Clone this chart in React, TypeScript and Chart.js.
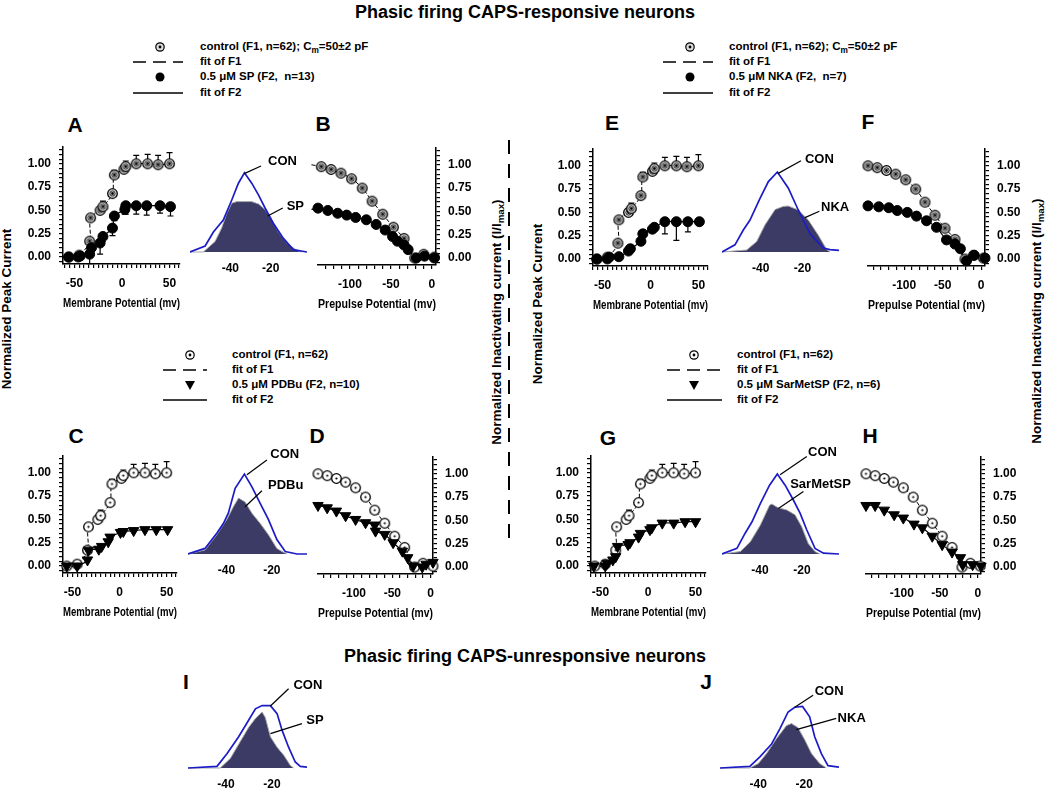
import React, { useEffect, useRef } from 'react';
import { Chart, registerables } from 'chart.js';

Chart.register(...registerables);

const FONT = "'Liberation Sans', Arial, Helvetica, sans-serif";
Chart.defaults.font.family = FONT;
Chart.defaults.color = '#000';

// ---------------- DATA ----------------
// Activation (normalized peak current vs membrane potential, mV)
const actCtrlV = [-56, -45, -34, -33, -23, -20, -10, -8, 2, 4, 15, 27, 38, 50];
const actCtrlY = [0.0, 0.02, 0.17, 0.42, 0.5, 0.54, 0.68, 0.88, 0.94, 0.97, 1.0, 1.0, 0.99, 1.0];
const actCtrlErr = [0, 0.02, 0.02, 0.03, 0.03, 0.06, 0.03, 0.05, 0.03, 0.06, 0.09, 0.1, 0.1, 0.12];

const actSpV = [-56, -46, -44, -34, -32, -23, -20, -10, -8, 3, 4, 15, 26, 40, 51];
const actSpY = [0, 0, 0.01, 0.03, 0.1, 0.15, 0.22, 0.31, 0.44, 0.51, 0.55, 0.55, 0.55, 0.55, 0.54];
const actSpErr = [0, 0.02, 0, 0.1, 0.05, 0.12, 0.05, 0.08, 0.05, 0.05, 0.09, 0.09, 0.1, 0.08, 0.1];

const actNkaV = [-56, -45, -43, -33, -23, -21, -10, -8, 2, 4, 15, 27, 39, 51];
const actNkaY = [0, 0, 0.02, 0.025, 0.085, 0.11, 0.19, 0.27, 0.32, 0.34, 0.4, 0.4, 0.4, 0.4];
const actNkaErr = [0, 0, 0, 0, 0, 0, 0, 0, 0, 0, 0.13, 0.2, 0.11, 0];

const actPdbuV = [-56, -45, -34, -33, -22, -19, -12, -10, 1, 4, 15, 27, 39, 51];
const actPdbuY = [0, 0, 0.065, 0.17, 0.18, 0.21, 0.26, 0.31, 0.36, 0.37, 0.38, 0.39, 0.39, 0.39];

const actSarV = [-57, -45, -43, -37, -34, -32, -21, -19, -10, -8, 2, 4, 15, 27, 39, 50];
const actSarY = [0, 0, 0.03, 0.065, 0.1, 0.21, 0.23, 0.25, 0.31, 0.35, 0.39, 0.41, 0.46, 0.46, 0.475, 0.475];

// Inactivation (normalized current vs prepulse potential, mV)
const inaCtrlV = [-147, -135, -123, -111, -98, -85, -73, -60, -47, -34, -21, -10, 3];
const inaCtrlY = [1.0, 0.98, 0.95, 0.91, 0.85, 0.75, 0.61, 0.47, 0.33, 0.21, 0.0, 0.04, 0.01];

const inaSpV = [-147, -139, -127, -115, -104, -93, -80, -68, -57, -48, -42, -34, -29, -19, -9, 3];
const inaSpY = [0.52, 0.535, 0.51, 0.48, 0.46, 0.435, 0.41, 0.36, 0.3, 0.23, 0.18, 0.14, 0.09, 0.0, 0.02, 0.0];

const inaNkaV = [-147, -133, -120, -109, -96, -84, -71, -58, -45, -34, -27, -19, -9, 5];
const inaNkaY = [0.57, 0.56, 0.55, 0.52, 0.5, 0.46, 0.41, 0.34, 0.205, 0.16, 0.11, -0.02, 0.04, 0.01];

const inaPdbuV = [-147, -135, -123, -111, -98, -85, -73, -72, -60, -49, -37, -30, -23, -11, -6, 3];
const inaPdbuY = [0.66, 0.635, 0.6, 0.55, 0.51, 0.475, 0.45, 0.385, 0.35, 0.26, 0.17, 0.1, 0.01, 0.0, 0.03, 0.05];

const inaSarV = [-147, -135, -123, -110, -98, -84, -73, -60, -47, -34, -23, -20, -7, 4];
const inaSarY = [0.66, 0.66, 0.61, 0.56, 0.525, 0.46, 0.42, 0.33, 0.24, 0.16, 0.1, 0.025, 0.025, 0.01];

// Window currents (normalized, vs mV)
const winAConV = [-60, -52.5, -48.4, -43.5, -39.3, -36, -33, -29.4, -26, -22.8, -18.7, -13.7, -8.8, -2];
const winAConY = [0, 0.075, 0.25, 0.4, 0.65, 0.86, 0.99, 0.86, 0.71, 0.55, 0.36, 0.17, 0.03, 0];
const winASpV = [-60, -53.4, -47.6, -44.3, -41.8, -39.3, -36.8, -29.4, -26, -22.8, -19.5, -16.2, -12, -7, -5];
const winASpY = [0, 0, 0.13, 0.3, 0.48, 0.61, 0.63, 0.63, 0.6, 0.53, 0.4, 0.25, 0.11, 0.02, 0];

const winCConV = [-57, -49.5, -44.3, -41.4, -39.2, -36.2, -32.1, -28.8, -25.1, -21.5, -17.8, -14.1, -8.9, -4.5];
const winCConY = [0, 0.07, 0.26, 0.38, 0.51, 0.82, 1.0, 0.84, 0.63, 0.43, 0.18, 0.03, 0, 0];
const winCPdV = [-57, -49.5, -44.3, -39.9, -37, -34.7, -31.8, -28.8, -25.1, -21.5, -17.8, -15.5, -13.3];
const winCPdY = [0, 0.05, 0.24, 0.43, 0.59, 0.7, 0.65, 0.51, 0.38, 0.24, 0.07, 0.03, 0];

const winEConV = [-58.5, -52.3, -48.3, -45.1, -40.3, -36.3, -32, -26.8, -22, -16.4, -10, -6.8, -2.5];
const winEConY = [0, 0.09, 0.275, 0.4, 0.67, 0.88, 1.0, 0.8, 0.525, 0.23, 0.05, 0.03, 0.02];
const winENkaV = [-58.5, -46.7, -41.9, -37.9, -33.1, -29.2, -26.8, -22, -17.2, -12.4, -8.4, -6.8];
const winENkaY = [0, 0.025, 0.13, 0.34, 0.53, 0.57, 0.575, 0.525, 0.4, 0.21, 0.03, 0];

const winGConV = [-58, -50.9, -47, -43.8, -39.8, -35.4, -31.7, -28, -24.1, -20.9, -17.7, -13.8, -9.8, -2.4];
const winGConY = [0, 0.07, 0.26, 0.4, 0.63, 0.86, 1.0, 0.86, 0.675, 0.51, 0.3, 0.07, 0.01, 0];
const winGSarV = [-58, -49.3, -44.6, -39.8, -35.4, -34.3, -31.5, -27.2, -23.3, -20.1, -17, -13.8, -11.4];
const winGSarY = [0, 0.03, 0.15, 0.36, 0.61, 0.625, 0.58, 0.55, 0.49, 0.34, 0.13, 0.03, 0];

const winIConV = [-56.5, -43.9, -39.5, -34.5, -30.1, -27.2, -24.3, -20.7, -17.8, -15.6, -12.8, -9.9, -7.7, -4.8];
const winIConY = [0, 0.02, 0.18, 0.39, 0.6, 0.74, 0.78, 0.78, 0.68, 0.47, 0.26, 0.075, 0.02, 0.01];
const winISpV = [-56.5, -42.5, -38.1, -33.8, -30.1, -27.2, -24.3, -22.9, -20.7, -17.8, -14.9, -12, -10.6];
const winISpY = [0, 0, 0.12, 0.33, 0.51, 0.62, 0.7, 0.63, 0.39, 0.26, 0.16, 0.03, 0];

const winJConV = [-56.7, -43.7, -39.3, -34.2, -30.6, -27, -24.1, -20.7, -17.6, -15.4, -12.5, -9.6, -4.8];
const winJConY = [0, 0.02, 0.14, 0.3, 0.49, 0.7, 0.76, 0.77, 0.64, 0.39, 0.18, 0.03, 0.01];
const winJNkaV = [-56.7, -43.7, -40, -36.4, -32, -27.7, -25.5, -22.7, -19.7, -16.8, -13.2, -10.3];
const winJNkaY = [0, 0, 0.055, 0.18, 0.37, 0.53, 0.555, 0.505, 0.35, 0.18, 0.055, 0];

// Tick positions / labels
const actXLabels = [-50, 0, 50];
const inaXLabels = [-100, -50, 0];
const winXLabels = [-40, -20];
const actXTicks: number[] = [];
for (let v = -60; v <= 60; v += 5) actXTicks.push(v);
const inaXTicks: number[] = [];
for (let v = -140; v <= 0; v += 10) inaXTicks.push(v);
const yTickList: number[] = [];
for (let i = -1; i <= 23; i++) yTickList.push(i * 0.05);
const Y_MIN = -0.075;
const Y_MAX = 1.18;

// ---------------- helpers ----------------
const pts = (xs: number[], ys: number[]) => xs.map((x, i) => ({ x, y: ys[i] }));
const isMult = (v: number, step: number) => {
  const r = v / step;
  return Math.abs(r - Math.round(r)) < 1e-6;
};

function ctrlMarker(kind: 'gray' | 'open', r: number) {
  const c = document.createElement('canvas');
  const s = 2 * Math.ceil(r) + 3;
  c.width = s;
  c.height = s;
  const g = c.getContext('2d')!;
  const m = s / 2;
  g.beginPath();
  g.arc(m, m, r, 0, Math.PI * 2);
  g.fillStyle = kind === 'gray' ? '#dcdcdc' : '#ffffff';
  g.fill();
  g.lineWidth = 1.3;
  g.strokeStyle = '#000';
  g.stroke();
  if (kind === 'gray') {
    g.beginPath();
    g.arc(m, m, r * 0.55, 0, Math.PI * 2);
    g.lineWidth = 1;
    g.strokeStyle = '#222';
    g.stroke();
  }
  g.beginPath();
  g.arc(m, m, kind === 'gray' ? 1.4 : 1.1, 0, Math.PI * 2);
  g.fillStyle = '#000';
  g.fill();
  return c;
}

const errorBarPlugin = {
  id: 'errbars',
  beforeDatasetsDraw(chart: any) {
    const ctx = chart.ctx;
    const ys = chart.scales.y;
    chart.data.datasets.forEach((ds: any, i: number) => {
      if (!ds.errUp && !ds.errDown) return;
      const meta = chart.getDatasetMeta(i);
      ctx.save();
      ctx.strokeStyle = '#000';
      ctx.lineWidth = 1.2;
      meta.data.forEach((p: any, j: number) => {
        const d = ds.data[j];
        const e = ds.errUp ? ds.errUp[j] : -(ds.errDown[j] || 0);
        if (!e) return;
        const y1 = ys.getPixelForValue(d.y + e);
        ctx.beginPath();
        ctx.moveTo(p.x, p.y);
        ctx.lineTo(p.x, y1);
        ctx.moveTo(p.x - 3, y1);
        ctx.lineTo(p.x + 3, y1);
        ctx.stroke();
      });
      ctx.restore();
    });
  },
};

type Callout = { text: string; tx: number; ty: number; x0: number; y0: number; x1: number; y1: number };
function makeCallouts(items: Callout[]) {
  return {
    id: 'callouts',
    afterDatasetsDraw(chart: any) {
      const ctx = chart.ctx;
      const xs = chart.scales.x;
      const ys = chart.scales.y;
      ctx.save();
      ctx.font = `bold 13px ${FONT}`;
      ctx.textBaseline = 'middle';
      ctx.textAlign = 'left';
      ctx.fillStyle = '#000';
      ctx.strokeStyle = '#000';
      ctx.lineWidth = 1.2;
      for (const it of items) {
        ctx.beginPath();
        ctx.moveTo(xs.getPixelForValue(it.x0), ys.getPixelForValue(it.y0));
        ctx.lineTo(xs.getPixelForValue(it.x1), ys.getPixelForValue(it.y1));
        ctx.stroke();
        ctx.fillText(it.text, xs.getPixelForValue(it.tx), ys.getPixelForValue(it.ty));
      }
      ctx.restore();
    },
  };
}

const tickFont = { size: 12, weight: 'bold' as const };
const axisGrid = { drawOnChartArea: false, drawTicks: true, tickLength: 4, color: '#000', tickColor: '#000', lineWidth: 1.2 };
const axisBorder = { display: true, color: '#000', width: 1.5 };

function axisScales(kind: 'act' | 'ina', xMin: number, xMax: number) {
  const xList = (kind === 'act' ? actXTicks : inaXTicks).filter((v) => v >= xMin - 1e-9 && v <= xMax + 1e-9);
  const xLab = kind === 'act' ? actXLabels : inaXLabels;
  return {
    x: {
      type: 'linear',
      min: xMin,
      max: xMax,
      afterBuildTicks: (s: any) => {
        s.ticks = xList.map((v) => ({ value: v }));
      },
      afterFit: (s: any) => {
        s.height = 47;
      },
      ticks: {
        autoSkip: false,
        maxRotation: 0,
        padding: 8,
        font: tickFont,
        color: '#000',
        callback: (v: any) => (xLab.includes(v) ? String(v) : ''),
      },
      grid: axisGrid,
      border: axisBorder,
      title: {
        display: true,
        text: kind === 'act' ? 'Membrane Potential (mv)' : 'Prepulse Potential (mv)',
        font: { size: 13, weight: 'bold' },
        color: '#000',
        padding: 0,
      },
    },
    y: {
      type: 'linear',
      position: kind === 'act' ? 'left' : 'right',
      min: Y_MIN,
      max: Y_MAX,
      afterBuildTicks: (s: any) => {
        s.ticks = yTickList.map((v) => ({ value: v }));
      },
      afterFit: (s: any) => {
        s.width = 45;
      },
      ticks: {
        autoSkip: false,
        padding: 8,
        font: tickFont,
        color: '#000',
        callback: (v: any) => (isMult(v, 0.25) && v > -0.01 && v < 1.01 ? Number(v).toFixed(2) : ''),
      },
      grid: axisGrid,
      border: axisBorder,
    },
  };
}

type Series = { v: number[]; y: number[]; err?: number[]; shape: 'circle' | 'tri' };

function buildXY(
  canvas: HTMLCanvasElement,
  kind: 'act' | 'ina',
  xMin: number,
  xMax: number,
  ctrl: { v: number[]; y: number[]; err?: number[]; marker: 'gray' | 'open' },
  drug: Series
) {
  const img = ctrlMarker(ctrl.marker, 4.8);
  const drugPoint =
    drug.shape === 'circle'
      ? { pointStyle: 'circle', pointRadius: 5, pointRotation: 0 }
      : { pointStyle: 'triangle', pointRadius: 6, pointRotation: 180 };
  return new Chart(canvas, {
    type: 'scatter',
    data: {
      datasets: [
        {
          type: 'line',
          data: pts(ctrl.v, ctrl.y),
          borderColor: '#000',
          backgroundColor: 'rgba(0,0,0,0)',
          borderWidth: 1,
          borderDash: [4, 2],
          pointRadius: 0,
          tension: 0.35,
          fill: false,
          order: 4,
          clip: false,
        } as any,
        {
          type: 'line',
          data: pts(drug.v, drug.y),
          borderColor: '#000',
          backgroundColor: 'rgba(0,0,0,0)',
          borderWidth: 1.2,
          pointRadius: 0,
          tension: 0.35,
          fill: false,
          order: 3,
          clip: false,
        } as any,
        {
          data: pts(ctrl.v, ctrl.y),
          pointStyle: img,
          pointRadius: 5,
          showLine: false,
          order: 2,
          clip: false,
          errUp: ctrl.err,
        } as any,
        {
          data: pts(drug.v, drug.y),
          ...drugPoint,
          backgroundColor: '#000',
          borderColor: '#000',
          pointBackgroundColor: '#000',
          pointBorderColor: '#000',
          pointBorderWidth: 1,
          showLine: false,
          order: 1,
          clip: false,
          errDown: drug.err,
        } as any,
      ],
    },
    options: {
      animation: false,
      responsive: false,
      devicePixelRatio: 1,
      events: [],
      layout: {
        padding: kind === 'act' ? { left: 0, top: 18, right: 10, bottom: 0 } : { left: 14, top: 18, right: 0, bottom: 0 },
      },
      plugins: { legend: { display: false }, tooltip: { enabled: false } },
      scales: axisScales(kind, xMin, xMax) as any,
    },
    plugins: [errorBarPlugin],
  } as any);
}

function buildWin(
  canvas: HTMLCanvasElement,
  xMin: number,
  xMax: number,
  conV: number[],
  conY: number[],
  drV: number[],
  drY: number[],
  callouts: Callout[]
) {
  return new Chart(canvas, {
    type: 'line',
    data: {
      datasets: [
        {
          data: pts(conV, conY),
          borderColor: '#1c1cc6',
          backgroundColor: 'rgba(0,0,0,0)',
          borderWidth: 1.7,
          pointRadius: 0,
          tension: 0,
          fill: false,
          order: 1,
        },
        {
          data: pts(drV, drY),
          borderColor: '#a8a8a8',
          borderWidth: 1,
          backgroundColor: '#3b3b66',
          pointRadius: 0,
          tension: 0,
          fill: { target: 'origin', above: '#3b3b66', below: '#3b3b66' },
          order: 2,
        },
      ],
    },
    options: {
      animation: false,
      responsive: false,
      devicePixelRatio: 1,
      events: [],
      layout: { padding: { left: 4, top: 40, right: 50, bottom: 0 } },
      plugins: { legend: { display: false }, tooltip: { enabled: false } },
      scales: {
        x: {
          type: 'linear',
          min: xMin,
          max: xMax,
          afterBuildTicks: (s: any) => {
            s.ticks = winXLabels.map((v) => ({ value: v }));
          },
          afterFit: (s: any) => {
            s.height = 28;
          },
          grid: { display: false, drawTicks: false, tickLength: 0 },
          border: { display: false },
          ticks: { autoSkip: false, maxRotation: 0, padding: 6.4, font: tickFont, color: '#000', callback: (v: any) => String(v) },
        },
        y: { type: 'linear', display: false, min: -0.0375, max: 1.1 },
      },
    } as any,
    plugins: [makeCallouts(callouts)],
  } as any);
}

// ---------------- components ----------------
function ChartCanvas(props: { left: number; top: number; width: number; height: number; build: (c: HTMLCanvasElement) => Chart }) {
  const ref = useRef<HTMLCanvasElement>(null);
  const { left, top, width, height, build } = props;
  useEffect(() => {
    const ch = build(ref.current!);
    return () => ch.destroy();
  }, []);
  return <canvas ref={ref} width={width} height={height} style={{ position: 'absolute', left, top, width, height }} />;
}

function actBox(key: string, L: number, T: number, W: number, xMin: number, xMax: number, ctrlMarkerKind: 'gray' | 'open', drug: Series) {
  return (
    <ChartCanvas
      key={key}
      left={L - 45}
      top={T - 18}
      width={45 + W + 10}
      height={18 + 117 + 47}
      build={(c) => buildXY(c, 'act', xMin, xMax, { v: actCtrlV, y: actCtrlY, err: actCtrlErr, marker: ctrlMarkerKind }, drug)}
    />
  );
}

function inaBox(key: string, L: number, T: number, W: number, xMin: number, xMax: number, ctrlMarkerKind: 'gray' | 'open', drug: Series) {
  return (
    <ChartCanvas
      key={key}
      left={L - 14}
      top={T - 18}
      width={14 + W + 45}
      height={18 + 117 + 47}
      build={(c) => buildXY(c, 'ina', xMin, xMax, { v: inaCtrlV, y: inaCtrlY, marker: ctrlMarkerKind }, drug)}
    />
  );
}

function winBox(
  key: string,
  L: number,
  base: number,
  W: number,
  xMin: number,
  xMax: number,
  conV: number[],
  conY: number[],
  drV: number[],
  drY: number[],
  callouts: Callout[]
) {
  return (
    <ChartCanvas
      key={key}
      left={L - 4}
      top={base - 128}
      width={4 + W + 50}
      height={40 + 91 + 28}
      build={(c) => buildWin(c, xMin, xMax, conV, conY, drV, drY, callouts)}
    />
  );
}

function Txt(props: { x: number; y: number; size: number; rot?: number; left?: boolean; children: any }) {
  const { x, y, size, rot, left, children } = props;
  return (
    <div
      style={{
        position: 'absolute',
        left: x,
        top: y,
        transform: `translate(${left ? '0' : '-50%'}, -50%)${rot ? ` rotate(${rot}deg)` : ''}`,
        fontSize: size,
        fontWeight: 'bold',
        whiteSpace: 'pre',
        lineHeight: 1,
      }}
    >
      {children}
    </div>
  );
}

const sub = (t: string) => <sub style={{ fontSize: '0.72em', verticalAlign: '-0.3em', lineHeight: 0 }}>{t}</sub>;

type LegendDef = {
  mx: number;
  lx1: number;
  lx2: number;
  tx: number;
  ys: number[];
  ctrl: 'gray' | 'open';
  drug: 'circle' | 'tri';
  texts: any[];
};

const legends: LegendDef[] = [
  {
    mx: 160, lx1: 133, lx2: 183, tx: 200, ys: [47, 62, 77, 93], ctrl: 'gray', drug: 'circle',
    texts: [<>control (F1, n=62); C{sub('m')}=50±2 pF</>, 'fit of F1', '0.5 μM SP (F2,  n=13)', 'fit of F2'],
  },
  {
    mx: 690, lx1: 663, lx2: 713, tx: 729, ys: [47, 62, 77, 93], ctrl: 'gray', drug: 'circle',
    texts: [<>control (F1, n=62); C{sub('m')}=50±2 pF</>, 'fit of F1', '0.5 μM NKA (F2,  n=7)', 'fit of F2'],
  },
  {
    mx: 190, lx1: 163, lx2: 207, tx: 232, ys: [355, 370, 385, 400], ctrl: 'open', drug: 'tri',
    texts: ['control (F1, n=62)', 'fit of F1', '0.5 μM PDBu (F2, n=10)', 'fit of F2'],
  },
  {
    mx: 694, lx1: 667, lx2: 722, tx: 737, ys: [355, 370, 385, 400], ctrl: 'open', drug: 'tri',
    texts: ['control (F1, n=62)', 'fit of F1', '0.5 μM SarMetSP (F2, n=6)', 'fit of F2'],
  },
];

function LegendShapes() {
  const els: any[] = [];
  legends.forEach((lg, i) => {
    const [y0, y1, y2, y3] = lg.ys;
    els.push(<circle key={`a${i}`} cx={lg.mx} cy={y0} r={4.2} fill={lg.ctrl === 'gray' ? '#dcdcdc' : '#fff'} stroke="#000" strokeWidth={1.2} />);
    els.push(<circle key={`b${i}`} cx={lg.mx} cy={y0} r={1.4} fill="#000" />);
    els.push(<line key={`c${i}`} x1={lg.lx1} x2={lg.lx2} y1={y1} y2={y1} stroke="#000" strokeWidth={1.5} strokeDasharray="13 7" />);
    if (lg.drug === 'circle') els.push(<circle key={`d${i}`} cx={lg.mx} cy={y2} r={4.5} fill="#000" />);
    else els.push(<polygon key={`d${i}`} points={`${lg.mx - 5},${y2 - 4} ${lg.mx + 5},${y2 - 4} ${lg.mx},${y2 + 5}`} fill="#000" />);
    els.push(<line key={`e${i}`} x1={lg.lx1} x2={lg.lx2} y1={y3} y2={y3} stroke="#000" strokeWidth={1.5} />);
  });
  return (
    <svg width={1050} height={790} style={{ position: 'absolute', left: 0, top: 0, pointerEvents: 'none' }}>
      {els}
      <line x1={509} x2={509} y1={140} y2={545} stroke="#000" strokeWidth={2} strokeDasharray="14 10" />
    </svg>
  );
}

const panelLetters: [string, number, number][] = [
  ['A', 75, 124], ['B', 323, 123], ['E', 612, 122], ['F', 868, 121],
  ['C', 76, 435], ['D', 317, 435], ['G', 608, 437], ['H', 870, 435],
  ['I', 186, 681], ['J', 706, 681],
];

export default function App() {
  return (
    <div
      style={{
        position: 'absolute', left: 0, top: 0, width: 1050, height: 790, overflow: 'hidden',
        background: '#fff', fontFamily: FONT, color: '#000',
      }}
    >
      <LegendShapes />
      <Txt x={525} y={12} size={18}>Phasic firing CAPS-responsive neurons</Txt>
      <Txt x={525} y={656} size={18}>Phasic firing CAPS-unresponsive neurons</Txt>
      {legends.map((lg, i) =>
        lg.texts.map((t, j) => (
          <Txt key={`lt${i}-${j}`} x={lg.tx} y={lg.ys[j]} size={11.5} left>
            {t}
          </Txt>
        ))
      )}
      {panelLetters.map(([s, x, y]) => (
        <Txt key={s} x={x} y={y} size={21}>{s}</Txt>
      ))}
      <Txt x={7} y={309} size={13.5} rot={-90}>Normalized Peak Current</Txt>
      <Txt x={538} y={304} size={13.5} rot={-90}>Normalized Peak Current</Txt>
      <Txt x={497} y={322} size={13.5} rot={-90}><>Normalized Inactivating current (I/I{sub('max')})</></Txt>
      <Txt x={1037} y={321} size={13.5} rot={-90}><>Normalized Inactivating current (I/I{sub('max')})</></Txt>

      {actBox('A', 63, 147, 117, -62, 61, 'gray', { v: actSpV, y: actSpY, err: actSpErr, shape: 'circle' })}
      {inaBox('B', 318, 148, 118, -139, 5, 'gray', { v: inaSpV, y: inaSpY, shape: 'circle' })}
      {actBox('E', 593, 149, 115, -60, 60, 'gray', { v: actNkaV, y: actNkaY, err: actNkaErr, shape: 'circle' })}
      {inaBox('F', 868, 149, 117, -147, 5, 'gray', { v: inaNkaV, y: inaNkaY, shape: 'circle' })}
      {actBox('C', 63, 456, 114, -60, 61, 'open', { v: actPdbuV, y: actPdbuY, shape: 'tri' })}
      {inaBox('D', 318, 457, 115, -147, 3, 'open', { v: inaPdbuV, y: inaPdbuY, shape: 'tri' })}
      {actBox('G', 591, 456, 115, -60, 61, 'open', { v: actSarV, y: actSarY, shape: 'tri' })}
      {inaBox('H', 866, 457, 115, -147, 4, 'open', { v: inaSarV, y: inaSarY, shape: 'tri' })}

      {winBox('wA', 190, 252, 117, -60, -2, winAConV, winAConY, winASpV, winASpY, [
        { text: 'CON', tx: -21.3, ty: 1.13, x0: -24.8, y0: 1.075, x1: -33.1, y1: 0.98 },
        { text: 'SP', tx: -12.1, ty: 0.57, x0: -14, y0: 0.55, x1: -21.5, y1: 0.45 },
      ])}
      {winBox('wC', 188, 554, 119, -57, -4.5, winCConV, winCConY, winCPdV, winCPdY, [
        { text: 'CON', tx: -20.7, ty: 1.24, x0: -22.2, y0: 1.175, x1: -31, y1: 0.99 },
        { text: 'PDBu', tx: -21.7, ty: 0.86, x0: -24.4, y0: 0.79, x1: -31.8, y1: 0.59 },
      ])}
      {winBox('wE', 722, 252, 117, -58.5, -2.5, winEConV, winEConY, winENkaV, winENkaY, [
        { text: 'CON', tx: -18.8, ty: 1.16, x0: -20.7, y0: 1.14, x1: -31.8, y1: 0.98 },
        { text: 'NKA', tx: -11.1, ty: 0.56, x0: -11.9, y0: 0.51, x1: -18.8, y1: 0.43 },
      ])}
      {winBox('wG', 722, 554, 117, -58, -2.4, winGConV, winGConY, winGSarV, winGSarY, [
        { text: 'CON', tx: -17.1, ty: 1.275, x0: -17.7, y0: 1.22, x1: -30.4, y1: 0.99 },
        { text: 'SarMetSP', tx: -25.6, ty: 0.875, x0: -19.3, y0: 0.78, x1: -31.2, y1: 0.57 },
      ])}
      {winBox('wI', 188, 768, 119, -56.5, -4.8, winIConV, winIConY, winISpV, winISpY, [
        { text: 'CON', tx: -10.7, ty: 1.03, x0: -12.8, y0: 0.99, x1: -20.7, y1: 0.775 },
        { text: 'SP', tx: -5.1, ty: 0.6, x0: -7, y0: 0.555, x1: -20.7, y1: 0.43 },
      ])}
      {winBox('wJ', 720, 768, 119, -56.7, -4.8, winJConV, winJConY, winJNkaV, winJNkaY, [
        { text: 'CON', tx: -15.4, ty: 0.96, x0: -16.1, y0: 0.91, x1: -24.1, y1: 0.76 },
        { text: 'NKA', tx: -5.4, ty: 0.625, x0: -6, y0: 0.62, x1: -23.4, y1: 0.48 },
      ])}
    </div>
  );
}
